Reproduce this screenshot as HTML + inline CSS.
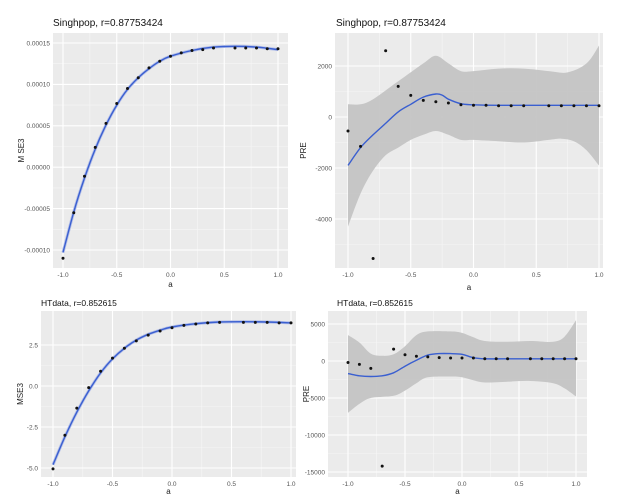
<!DOCTYPE html>
<html><head><meta charset="utf-8"><style>
body{margin:0;background:#fff;width:635px;height:501px;overflow:hidden}
svg{display:block}
text{font-family:"Liberation Sans",sans-serif}
</style></head><body>
<svg id="s" width="635" height="501" xmlns="http://www.w3.org/2000/svg"></svg>
<script>
var S=document.getElementById('s'),H='';
function sm(pts){var d='M'+pts[0][0].toFixed(1)+','+pts[0][1].toFixed(1);
for(var i=0;i<pts.length-1;i++){var p0=pts[i-1]||pts[i],p1=pts[i],p2=pts[i+1],p3=pts[i+2]||p2;
d+=' C'+(p1[0]+(p2[0]-p0[0])/6).toFixed(1)+','+(p1[1]+(p2[1]-p0[1])/6).toFixed(1)+' '+(p2[0]-(p3[0]-p1[0])/6).toFixed(1)+','+(p2[1]-(p3[1]-p1[1])/6).toFixed(1)+' '+p2[0].toFixed(1)+','+p2[1].toFixed(1);}return d;}
function panel(o){
var X=function(a){return o.x0+(a+1)/2*(o.x1-o.x0)};
var Y=function(v){return o.ya+(v-o.va)/(o.vb-o.va)*(o.yb-o.ya)};
H+='<rect x="'+o.L+'" y="'+o.T+'" width="'+(o.R-o.L)+'" height="'+(o.B-o.T)+'" fill="#ebebeb"/>';
var xs=[-1,-0.5,0,0.5,1];
for(var i=0;i<4;i++){var m=X(xs[i]+0.25);H+='<line x1="'+m+'" x2="'+m+'" y1="'+o.T+'" y2="'+o.B+'" stroke="#f6f6f6" stroke-width="0.6"/>';}
for(var i=0;i<o.yt.length-1;i++){var m=Y((o.yt[i]+o.yt[i+1])/2);H+='<line x1="'+o.L+'" x2="'+o.R+'" y1="'+m+'" y2="'+m+'" stroke="#f6f6f6" stroke-width="0.6"/>';}
if(o.yext){var m=Y(o.yext);H+='<line x1="'+o.L+'" x2="'+o.R+'" y1="'+m+'" y2="'+m+'" stroke="#f6f6f6" stroke-width="0.6"/>';}
xs.forEach(function(a){var x=X(a);H+='<line x1="'+x+'" x2="'+x+'" y1="'+o.T+'" y2="'+o.B+'" stroke="#fff" stroke-width="1.1"/>';
H+='<text x="'+x+'" y="'+(o.B+9)+'" font-size="6.5" fill="#555" text-anchor="middle">'+a.toFixed(1)+'</text>';});
o.yt.forEach(function(v,i){var y=Y(v);H+='<line x1="'+o.L+'" x2="'+o.R+'" y1="'+y+'" y2="'+y+'" stroke="#fff" stroke-width="1.1"/>';
H+='<text x="'+(o.L-3)+'" y="'+(y+2.3)+'" font-size="6.5" fill="#555" text-anchor="end">'+o.yl[i]+'</text>';});
if(o.up){var u=o.up.map(function(p){return [X(p[0]),Y(p[1])]}),l=o.lo.map(function(p){return [X(p[0]),Y(p[1])]}).reverse();
H+='<path d="'+sm(u)+' L'+l[0][0]+','+l[0][1]+' '+sm(l).slice(1)+' Z" fill="#c4c4c4" opacity="0.95"/>';}
var c=o.cv.map(function(p){return [X(p[0]),Y(p[1])]});
if(o.thin){H+='<path d="'+sm(c)+'" stroke="#b4bfe8" stroke-width="3" fill="none"/>';}
H+='<path d="'+sm(c)+'" stroke="#3a5fd0" stroke-width="1.4" fill="none"/>';
o.pts.forEach(function(p){H+='<circle cx="'+X(p[0])+'" cy="'+Y(p[1])+'" r="1.5" fill="#111"/>';});
H+='<text x="'+o.tx+'" y="'+o.ty+'" font-size="'+o.tf+'" fill="#111">'+o.title+'</text>';
H+='<text x="'+((o.L+o.R)/2)+'" y="'+o.ay+'" font-size="8" fill="#222" text-anchor="middle">a</text>';
H+='<text transform="translate('+o.lx+','+((o.T+o.B)/2)+') rotate(-90)" font-size="8" fill="#222" text-anchor="middle">'+o.ylab+'</text>';
}
var A=[-1,-0.9,-0.8,-0.7,-0.6,-0.5,-0.4,-0.3,-0.2,-0.1,0,0.1,0.2,0.3,0.4,0.6,0.7,0.8,0.9,1];
function zip(v){return A.map(function(a,i){return [a,v[i]]})}
panel({L:53,R:288,T:33,B:268,x0:63,x1:278,ya:43,va:0.00015,yb:250,vb:-0.0001,
yt:[-0.0001,-0.00005,0,0.00005,0.0001,0.00015],yl:['-0.00010','-0.00005','0.00000','0.00005','0.00010','0.00015'],
thin:1,cv:[[-1,-0.000103],[-0.9,-0.000054],[-0.8,-0.000013],[-0.7,0.000022],[-0.6,0.000051],[-0.5,0.000075],[-0.4,0.000094],[-0.3,0.000108],[-0.2,0.000119],[-0.1,0.000128],[0,0.000134],[0.2,0.000141],[0.4,0.000145],[0.6,0.000146],[0.8,0.000145],[1,0.000142]],
pts:zip([-0.00011,-0.000055,-0.000011,0.000024,0.000053,0.000077,0.000095,0.000108,0.00012,0.000128,0.000134,0.000138,0.000141,0.000142,0.000144,0.000144,0.000144,0.000144,0.000143,0.000143]),
title:'Singhpop, r=0.87753424',tx:53,ty:26,tf:10,ay:287,lx:24,ylab:'M SE3'});
panel({L:335,R:603,T:33,B:268,x0:348,x1:599,ya:117,va:0,yb:66,vb:2000,
yt:[-4000,-2000,0,2000],yl:['-4000','-2000','0','2000'],yext:-5000,
up:[[-1,500],[-0.9,500],[-0.8,700],[-0.6,1400],[-0.4,2100],[-0.3,2400],[-0.2,2100],[-0.1,1800],[0,1800],[0.2,1900],[0.4,1900],[0.6,1800],[0.75,1750],[0.9,2100],[1,2800]],
lo:[[-1,-4300],[-0.9,-3000],[-0.8,-2100],[-0.7,-1500],[-0.6,-1200],[-0.5,-900],[-0.4,-700],[-0.3,-550],[-0.2,-700],[-0.1,-900],[0,-900],[0.2,-950],[0.4,-1000],[0.6,-900],[0.7,-850],[0.8,-950],[0.9,-1300],[1,-1900]],
cv:[[-1,-1900],[-0.9,-1200],[-0.8,-700],[-0.7,-250],[-0.6,200],[-0.5,500],[-0.4,780],[-0.3,900],[-0.25,860],[-0.2,700],[-0.1,520],[0,480],[0.2,460],[0.6,460],[1,460]],
pts:zip([-550,-1150,-5550,2600,1200,850,650,600,550,480,460,460,440,440,440,440,440,440,440,440]),
title:'Singhpop, r=0.87753424',tx:336,ty:26,tf:10,ay:290,lx:306,ylab:'PRE'});
panel({L:41,R:296,T:311,B:477,x0:53,x1:291,ya:386,va:0,yb:345,vb:2.5,
yt:[-5,-2.5,0,2.5],yl:['-5.0','-2.5','0.0','2.5'],
thin:1,cv:[[-1,-4.8],[-0.9,-3.1],[-0.8,-1.6],[-0.7,-0.3],[-0.6,0.8],[-0.5,1.65],[-0.4,2.3],[-0.3,2.8],[-0.2,3.15],[-0.1,3.4],[0,3.6],[0.2,3.8],[0.4,3.9],[0.6,3.92],[0.8,3.9],[1,3.85]],
pts:zip([-5.05,-3.0,-1.35,-0.1,0.9,1.7,2.3,2.75,3.1,3.35,3.55,3.7,3.78,3.85,3.88,3.88,3.88,3.88,3.85,3.85]),
title:'HTdata, r=0.852615',tx:41,ty:306,tf:8.5,ay:494,lx:23,ylab:'MSE3'});
panel({L:328,R:587,T:311,B:477,x0:348,x1:576,ya:361,va:0,yb:324,vb:5000,
yt:[-15000,-10000,-5000,0,5000],yl:['-15000','-10000','-5000','0','5000'],
up:[[-1,3500],[-0.9,2500],[-0.8,1000],[-0.7,700],[-0.6,900],[-0.5,2000],[-0.4,3500],[-0.3,4000],[-0.1,4000],[0,3800],[0.1,3200],[0.2,2700],[0.4,2600],[0.6,2700],[0.8,2600],[0.9,3300],[1,5500]],
lo:[[-1,-7000],[-0.9,-5800],[-0.8,-5000],[-0.6,-4700],[-0.5,-4000],[-0.4,-3000],[-0.3,-2200],[-0.1,-2100],[0,-2200],[0.1,-2600],[0.2,-2900],[0.4,-2800],[0.6,-2700],[0.8,-3000],[0.9,-3700],[1,-4800]],
cv:[[-1,-1700],[-0.9,-2000],[-0.8,-2100],[-0.7,-2000],[-0.6,-1600],[-0.5,-700],[-0.4,100],[-0.3,800],[-0.2,1000],[-0.1,1000],[0,900],[0.1,450],[0.2,300],[0.5,300],[1,300]],
pts:zip([-200,-450,-1000,-14200,1600,850,650,550,450,400,400,400,300,300,300,300,300,300,300,300]),
title:'HTdata, r=0.852615',tx:337,ty:306,tf:8.5,ay:494,lx:309,ylab:'PRE'});
S.innerHTML=H;
</script>
</body></html>
